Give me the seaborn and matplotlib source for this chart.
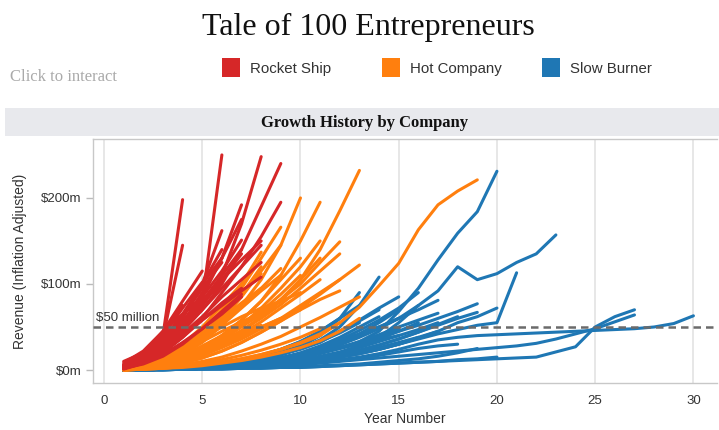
import matplotlib
matplotlib.use("Agg")
import matplotlib.pyplot as plt
from matplotlib.patches import Rectangle
import seaborn as sns
import pandas as pd

# Revenue ($m, inflation adjusted) per year, starting at year 1
rocket_ship = [
    [3, 12, 40, 198],
    [2, 10, 38, 145],
    [1, 8, 22, 45, 80, 250],
    [2, 10, 25, 45, 75, 110, 170, 248],
    [3, 12, 28, 45, 70, 100, 140, 190, 240],
    [2, 9, 20, 38, 60, 90, 120, 155, 195],
    [2, 10, 25, 50, 85, 130, 192],
    [4, 14, 32, 60, 100, 162],
    [5, 18, 45, 80, 115],
    [2, 12, 30, 55, 85, 115, 151],
    [2, 10, 24, 42, 62, 85, 105, 125],
    [3, 12, 25, 40, 58, 75, 92, 108],
    [6, 20, 40, 55],
    [8, 22, 45, 65, 85],
    [3, 14, 35, 65, 100, 130],
    [2, 10, 28, 55, 90, 130, 175],
    [4, 15, 32, 55, 80, 110, 140],
    [2, 12, 30, 55, 80, 100],
    [5, 18, 38, 58, 75],
    [2, 8, 20, 38, 58, 78, 95],
    [3, 12, 28, 48, 70, 95, 120, 145],
    [2, 8, 18, 32, 48, 65, 85],
    [10, 20, 42, 75],
    [3, 14, 35, 62, 100, 140],
    [2, 10, 26, 48, 75, 105, 135],
    [5, 18, 40, 72, 102],
    [2, 12, 30, 52, 80, 105, 128, 150],
    [4, 16, 36, 62, 95, 125],
    [2, 7, 16, 30, 48, 68, 88],
    [6, 18, 35, 55, 78],
]

hot_company = [
    [1, 3, 8, 18, 32, 52, 75, 105, 145, 200],
    [1, 3, 7, 14, 25, 40, 58, 80, 110, 150, 195],
    [0, 2, 5, 10, 18, 30, 45, 62, 80, 105, 140, 185, 232],
    [1, 4, 10, 22, 40, 65, 95, 130, 166],
    [1, 3, 6, 12, 22, 35, 50, 65, 82, 100, 125, 149],
    [1, 5, 12, 25, 45, 70, 100, 137],
    [1, 4, 10, 20, 35, 58, 88, 120],
    [0, 2, 5, 10, 17, 26, 36, 48, 60, 75, 90, 105, 122],
    [0, 1, 2, 4, 6, 9, 13, 18, 24, 31, 40, 55, 73, 98, 124, 163, 192, 208, 221],
    [1, 3, 7, 13, 22, 33, 46, 60, 76, 95, 115, 135],
    [1, 4, 9, 17, 28, 40, 55, 68, 80, 90],
    [1, 3, 6, 11, 19, 29, 42, 56, 72, 88, 105],
    [2, 6, 13, 24, 37, 50, 62, 72, 80],
    [2, 7, 16, 30, 50, 75, 100],
    [1, 3, 7, 14, 25, 40, 58, 80, 105, 130],
    [0, 2, 4, 8, 14, 22, 32, 44, 57, 70, 82, 92],
    [1, 3, 7, 13, 22, 35, 52, 72, 95, 120, 150],
    [1, 5, 12, 22, 36, 54, 75, 95],
    [1, 4, 10, 20, 34, 52, 72, 92, 110],
    [1, 3, 7, 12, 19, 28, 38, 50, 60, 70],
    [0, 1, 2, 3, 5, 8, 11, 15, 20, 26, 34, 45, 60],
    [2, 7, 15, 27, 42, 58, 75],
    [0, 1, 2, 4, 6, 9, 13, 18, 24, 32, 42, 55],
    [1, 3, 7, 13, 21, 30, 40, 50, 60],
    [1, 4, 9, 16, 26, 38, 52, 68, 88, 110],
    [2, 6, 13, 22, 33, 45, 56, 65],
    [0, 1, 3, 6, 10, 15, 22, 30, 39, 50, 61, 73, 85],
    [1, 3, 6, 11, 19, 30, 44, 62, 82, 105, 130],
    [1, 4, 10, 20, 36, 58, 85, 115, 145],
    [0, 2, 4, 8, 14, 22, 32, 44, 57, 72, 88, 105],
    [1, 2, 3, 5, 8, 12, 17, 23, 30, 38, 48],
    [2, 5, 10, 17, 25, 34, 43, 52],
    [1, 4, 11, 23, 40, 62, 90, 112],
    [2, 6, 14, 26, 42, 60, 78, 95, 118],
]

slow_burner = [
    [0, 0, 1, 1, 2, 3, 5, 7, 10, 14, 19, 25, 33, 45, 68, 95, 128, 159, 184, 231],
    [0, 0, 1, 1, 2, 3, 4, 6, 8, 11, 15, 20, 27, 38, 55, 75, 92, 120, 105, 112, 125, 135, 157],
    [0, 0, 1, 1, 2, 3, 4, 5, 7, 9, 12, 15, 19, 24, 30, 36, 42, 47, 52, 55, 113],
    [0, 0, 1, 1, 2, 3, 4, 5, 6, 8, 10, 12, 15, 19, 24, 30, 35, 38, 40, 41, 42, 43, 44, 45, 46, 47, 48, 50, 54, 63],
    [0, 0, 0, 1, 1, 1, 2, 2, 3, 3, 4, 5, 6, 7, 8, 9, 10, 11, 12, 13, 14, 15, 21, 27, 50, 62, 70],
    [0, 0, 1, 1, 2, 2, 3, 4, 5, 6, 8, 10, 12, 14, 16, 18, 20, 22, 24, 26, 28, 31, 36, 42, 48, 56, 64],
    [0, 1, 1, 2, 3, 4, 6, 8, 11, 15, 20, 26, 32, 38, 45, 52, 60, 68, 77],
    [0, 0, 1, 1, 2, 3, 4, 6, 8, 11, 14, 18, 23, 29, 36, 44, 52, 60, 67],
    [0, 0, 1, 1, 2, 3, 4, 5, 7, 9, 12, 15, 19, 24, 30, 37, 45, 55, 62, 72],
    [0, 1, 1, 2, 3, 5, 7, 10, 14, 19, 25, 32, 40, 50, 60, 70, 81],
    [0, 0, 1, 2, 3, 4, 6, 8, 11, 15, 20, 26, 33, 41, 50, 58, 66],
    [0, 1, 2, 3, 4, 6, 9, 13, 18, 25, 35, 50, 75, 108],
    [0, 1, 1, 2, 3, 5, 7, 10, 14, 19, 26, 35, 46, 58, 72, 90],
    [0, 1, 2, 3, 4, 6, 9, 13, 18, 25, 34, 45, 58, 72, 85],
    [0, 0, 1, 2, 3, 4, 6, 9, 12, 16, 22, 29, 38, 48, 60, 75],
    [0, 0, 1, 1, 2, 3, 4, 6, 8, 11, 14, 18, 23, 29, 36, 44, 53, 62],
    [0, 1, 1, 2, 3, 5, 7, 10, 14, 19, 26, 34, 42, 50, 60],
    [0, 1, 2, 3, 5, 8, 12, 17, 24, 33, 45, 60, 75],
    [0, 1, 1, 2, 4, 6, 9, 13, 18, 25, 34, 45, 57, 70],
    [0, 0, 1, 1, 2, 3, 5, 7, 9, 12, 16, 21, 28, 36, 45, 55],
    [0, 0, 0, 1, 1, 1, 2, 2, 3, 3, 4, 5, 6, 7, 8, 9, 10, 12, 13, 15],
    [0, 0, 1, 1, 2, 2, 3, 4, 5, 7, 9, 11, 14, 17, 21, 25, 28, 30],
    [0, 1, 1, 2, 3, 4, 6, 8, 11, 15, 20, 25, 30, 35, 40],
    [0, 0, 1, 1, 2, 3, 4, 6, 8, 10, 13, 17, 21, 26, 32, 38, 45],
    [0, 1, 2, 3, 5, 8, 12, 17, 24, 33, 45, 60],
    [0, 1, 2, 3, 4, 6, 9, 13, 18, 25, 33, 43, 55],
    [0, 1, 1, 2, 3, 5, 7, 10, 14, 19, 26, 33, 41, 50],
    [0, 1, 2, 3, 4, 6, 9, 13, 18, 24, 32, 45],
    [0, 1, 2, 3, 5, 7, 10, 14, 20, 28, 40],
    [0, 1, 1, 2, 3, 5, 7, 10, 13, 18, 24, 32, 42, 55, 70],
    [0, 1, 2, 3, 5, 7, 10, 14, 20, 28, 40, 60, 90],
    [0, 0, 1, 1, 2, 3, 4, 5, 7, 9, 12, 15, 19, 24, 30, 38],
    [0, 0, 0, 1, 1, 2, 2, 3, 3, 4, 5, 6, 7, 9, 11, 13, 16, 20, 25],
    [0, 1, 1, 2, 3, 5, 7, 10, 14, 20, 28, 38, 50, 62],
    [0, 0, 1, 1, 2, 3, 4, 6, 8, 11, 15, 20, 26, 33, 40, 47, 55],
    [0, 1, 1, 2, 3, 4, 6, 8, 11, 15, 20, 26, 32, 40, 48],
]

categories = ["Rocket Ship", "Hot Company", "Slow Burner"]
colors = ["#d62728", "#ff7f0e", "#1f77b4"]
threshold = 50
y_ticks = [0, 100, 200]
y_tick_labels = ["$0m", "$100m", "$200m"]
x_ticks = [0, 5, 10, 15, 20, 25, 30]

# Long-form table: one row per company-year
rows = []
cid = 0
for cat, group in zip(categories, [rocket_ship, hot_company, slow_burner]):
    for series in group:
        cid += 1
        for i, v in enumerate(series):
            rows.append({"company": cid, "category": cat, "year": i + 1, "revenue": v})
df = pd.DataFrame(rows)

sns.set_theme(style="white")
plt.rcParams["font.family"] = ["Liberation Sans", "DejaVu Sans"]

fig = plt.figure(figsize=(7.19, 4.30), dpi=100)
ax = fig.add_axes([93 / 719, 1 - 383 / 430, 624 / 719, 244 / 430])

palette = dict(zip(categories, colors))
sns.lineplot(
    data=df, x="year", y="revenue", hue="category", units="company",
    estimator=None, hue_order=["Slow Burner", "Hot Company", "Rocket Ship"],
    palette=palette, legend=False, linewidth=2.2, ax=ax, sort=False,
)

ax.axhline(threshold, color="#6b6b6b", linestyle=(0, (3, 2)), linewidth=1.8, zorder=5)
ax.text(-0.4, threshold + 3, "$50 million", fontsize=9.5, color="#333333",
        ha="left", va="bottom", zorder=6)

ax.set_xlim(-0.56, 31.2)
ax.set_ylim(-15.1, 268.5)
ax.set_xticks(x_ticks)
ax.set_yticks(y_ticks)
ax.set_yticklabels([t.replace("$", r"\$") for t in y_tick_labels])
ax.tick_params(axis="x", length=0, pad=9, labelsize=9.5, labelcolor="#333333")
ax.tick_params(axis="y", length=5, width=1, color="#bbbbbb", pad=3, labelsize=9.5,
               labelcolor="#333333", left=True)
ax.grid(axis="x", color="#e3e3e3", linewidth=1.2)
ax.set_axisbelow(True)
for side, sp in ax.spines.items():
    sp.set_color("#c8c8c8")
    sp.set_linewidth(1.0)
ax.spines["right"].set_visible(False)
ax.set_xlabel("Year Number", fontsize=10, color="#333333", labelpad=3)
ax.set_ylabel("Revenue (Inflation Adjusted)", fontsize=10, color="#333333", labelpad=10)

# Header elements
fig.text(368 / 719, 1 - 27 / 430, "Tale of 100 Entrepreneurs", fontsize=23,
         family=["Liberation Serif"], ha="center", va="center", color="#111111")
fig.text(10 / 719, 1 - 77 / 430, "Click to interact", fontsize=12,
         family=["Liberation Serif"], ha="left", va="center", color="#aaaaaa")

legend_x = [222, 382, 542]
for lx, cat, col in zip(legend_x, categories, colors):
    fig.patches.append(Rectangle((lx / 719, 1 - 77 / 430), 18 / 719, 19 / 430,
                                 transform=fig.transFigure, facecolor=col,
                                 edgecolor="none"))
    fig.text((lx + 28) / 719, 1 - 69 / 430, cat, fontsize=10.8, ha="left",
             va="center", color="#333333")

fig.patches.append(Rectangle((5 / 719, 1 - 136 / 430), 714 / 719, 28 / 430,
                             transform=fig.transFigure, facecolor="#e8e9ed",
                             edgecolor="none"))
fig.text(365 / 719, 1 - 123 / 430, "Growth History by Company", fontsize=12,
         family=["Liberation Serif"], weight="bold", ha="center", va="center",
         color="#111111")

fig.savefig("out.png", dpi=100)
